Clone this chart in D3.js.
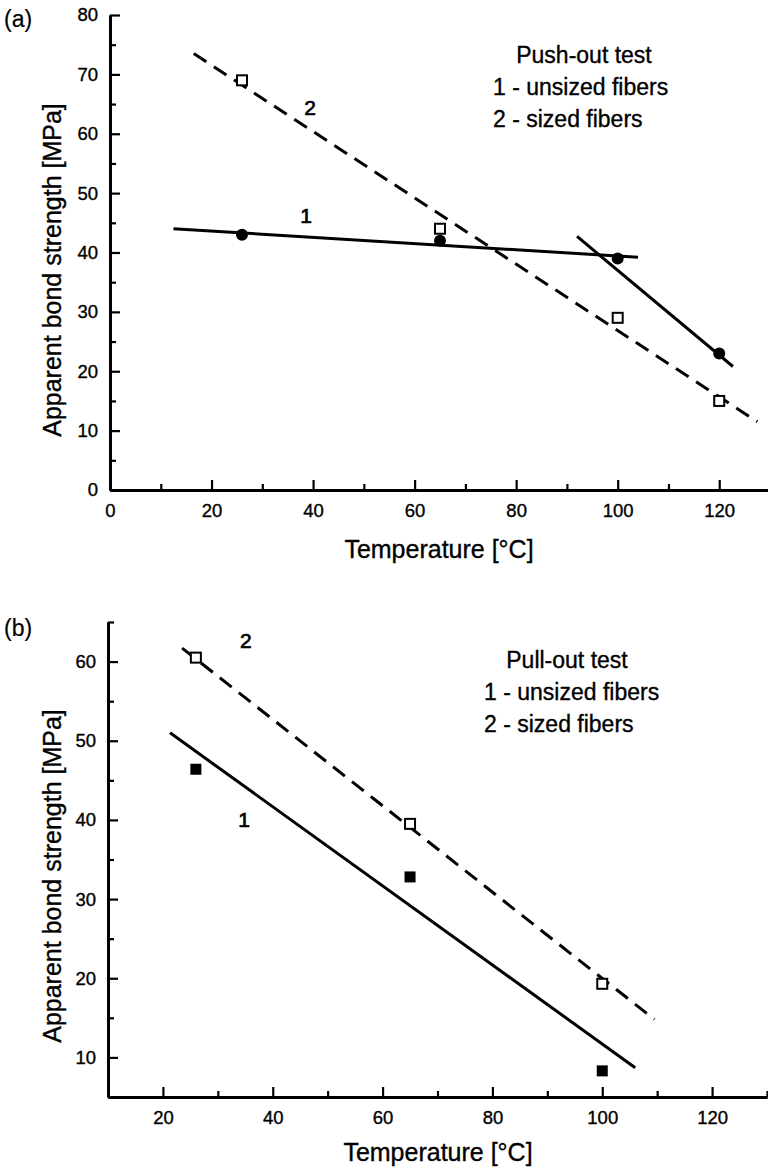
<!DOCTYPE html>
<html>
<head>
<meta charset="utf-8">
<script src="https://cdn.jsdelivr.net/npm/d3@7"></script>
<style>
  body { margin: 0; background: #fff; }
  svg { display: block; font-family: "Liberation Sans", Arial, Helvetica, sans-serif; }
  svg text { stroke: #000; stroke-width: 0.35px; }
</style>
</head>
<body>
<div id="wrapper"></div>
<script>
// DATA - panel (a), push-out test
const pushTemps = [26, 65, 100, 120];
const pushUnsized = [43, 42, 39, 23];
const pushSized = [69, 44, 29, 15];
// fitted lines, [temperature, strength] end points
const pushFit1a = [[12.5, 44], [104, 39.2]];
const pushFit1b = [[92, 42.7], [122.7, 20.8]];
const pushFit2 = [[16.5, 73.5], [127.5, 11.5]];

// DATA - panel (b), pull-out test
const pullTemps = [26, 65, 100];
const pullUnsized = [46.4, 32.8, 8.3];
const pullSized = [60.5, 39.5, 19.3];
const pullFit1 = [[21.3, 51], [106, 8.7]];
const pullFit2 = [[23.5, 61.7], [109.5, 14.8]];

const legendA = ["Push-out test", "1 - unsized fibers", "2 - sized fibers"];
const legendB = ["Pull-out test", "1 - unsized fibers", "2 - sized fibers"];

const svg = d3.select("#wrapper")
  .append("svg")
  .attr("width", 768)
  .attr("height", 1168);

function panel(opts) {
  const x = d3.scaleLinear().domain(opts.xDomain).range(opts.xRange);
  const y = d3.scaleLinear().domain(opts.yDomain).range(opts.yRange);
  const g = svg.append("g");

  //AXES
  const xMajor = d3.axisBottom(x).tickValues(opts.xMajor).tickSizeInner(-10)
    .tickSizeOuter(0).tickPadding(14).tickFormat(d3.format("d"));
  const xMinor = d3.axisBottom(x).tickValues(opts.xMinor).tickSizeInner(-6)
    .tickSizeOuter(0).tickFormat("");
  const yMajor = d3.axisLeft(y).tickValues(opts.yMajor).tickSizeInner(-10)
    .tickSizeOuter(0).tickPadding(12).tickFormat(d3.format("d"));
  const yMinor = d3.axisLeft(y).tickValues(opts.yMinor).tickSizeInner(-6)
    .tickSizeOuter(0).tickFormat("");

  const xg = opts.yRange[0];
  const yg = opts.xRange[0];
  [xMajor, xMinor].forEach(a => {
    g.append("g").attr("class", "axis").attr("transform", `translate(0,${xg})`).call(a);
  });
  [yMajor, yMinor].forEach(a => {
    g.append("g").attr("class", "axis").attr("transform", `translate(${yg},0)`).call(a);
  });
  g.selectAll(".axis path").attr("stroke", "#000").attr("stroke-width", 2.8);
  g.selectAll(".axis line").attr("stroke", "#000").attr("stroke-width", 2.2);
  g.selectAll(".axis text")
    .attr("font-size", 18.5)
    .attr("font-family", "Liberation Sans, Arial, sans-serif")
    .attr("fill", "#000");

  //FIT LINES
  const line = d3.line().x(d => x(d[0])).y(d => y(d[1]));
  opts.fits.forEach(f => {
    g.append("path")
      .attr("d", line(f.pts))
      .attr("fill", "none")
      .attr("stroke", "#000")
      .attr("stroke-width", 3)
      .attr("stroke-dasharray", f.dashed ? "15,9" : null);
  });

  //MARKERS
  opts.series.forEach(s => {
    const pts = s.temps.map((t, i) => [t, s.values[i]]);
    if (s.shape === "circle") {
      g.append("g").selectAll("circle").data(pts).join("circle")
        .attr("cx", d => x(d[0])).attr("cy", d => y(d[1]))
        .attr("r", 6).attr("fill", "#000");
    } else {
      const size = s.filled ? 11 : 10;
      g.append("g").selectAll("rect").data(pts).join("rect")
        .attr("x", d => x(d[0]) - size / 2).attr("y", d => y(d[1]) - size / 2)
        .attr("width", size).attr("height", size)
        .attr("fill", s.filled ? "#000" : "#fff")
        .attr("stroke", "#000")
        .attr("stroke-width", s.filled ? 0 : 2);
    }
  });

  //LINE NUMBERS
  opts.numbers.forEach(n => {
    g.append("text")
      .attr("x", x(n.at[0])).attr("y", y(n.at[1]))
      .attr("text-anchor", "middle")
      .attr("font-size", 21)
      .style("stroke-width", "0.7px")
      .text(n.label);
  });

  //LEGEND
  g.append("text")
    .attr("x", opts.legend.cx).attr("y", opts.legend.y)
    .attr("text-anchor", "middle").attr("font-size", 23)
    .text(opts.legend.lines[0]);
  opts.legend.lines.slice(1).forEach((t, i) => {
    g.append("text")
      .attr("x", opts.legend.left).attr("y", opts.legend.y + 32 * (i + 1))
      .attr("font-size", 23)
      .text(t);
  });

  //TITLES
  g.append("text")
    .attr("x", opts.xTitle[0]).attr("y", opts.xTitle[1])
    .attr("text-anchor", "middle").attr("font-size", 25)
    .text("Temperature [°C]");
  g.append("text")
    .attr("transform", `translate(${opts.yTitle[0]},${opts.yTitle[1]}) rotate(-90)`)
    .attr("text-anchor", "middle").attr("font-size", 25)
    .text("Apparent bond strength [MPa]");
  g.append("text")
    .attr("x", 4).attr("y", opts.tag[1])
    .attr("font-size", 23)
    .style("stroke-width", "0.2px")
    .text(opts.tag[0]);
}

panel({
  xDomain: [0, 130], xRange: [110, 770],
  yDomain: [0, 80], yRange: [490, 15],
  xMajor: [0, 20, 40, 60, 80, 100, 120],
  xMinor: [10, 30, 50, 70, 90, 110],
  yMajor: [0, 10, 20, 30, 40, 50, 60, 70, 80],
  yMinor: [5, 15, 25, 35, 45, 55, 65, 75],
  fits: [
    { pts: pushFit1a, dashed: false },
    { pts: pushFit1b, dashed: false },
    { pts: pushFit2, dashed: true }
  ],
  series: [
    { temps: pushTemps, values: pushSized, shape: "square", filled: false },
    { temps: pushTemps, values: pushUnsized, shape: "circle" }
  ],
  numbers: [
    { label: "2", at: [39.4, 63.2] },
    { label: "1", at: [38.6, 45.0] }
  ],
  legend: { lines: legendA, cx: 584, left: 493, y: 63 },
  xTitle: [439, 558],
  yTitle: [61, 270],
  tag: ["(a)", 27]
});

panel({
  xDomain: [10, 130], xRange: [108, 767],
  yDomain: [5, 65], yRange: [1097, 622],
  xMajor: [20, 40, 60, 80, 100, 120],
  xMinor: [30, 50, 70, 90, 110, 130],
  yMajor: [10, 20, 30, 40, 50, 60],
  yMinor: [15, 25, 35, 45, 55, 65],
  fits: [
    { pts: pullFit1, dashed: false },
    { pts: pullFit2, dashed: true }
  ],
  series: [
    { temps: pullTemps, values: pullSized, shape: "square", filled: false },
    { temps: pullTemps, values: pullUnsized, shape: "square", filled: true }
  ],
  numbers: [
    { label: "2", at: [35.1, 61.7] },
    { label: "1", at: [34.8, 39.1] }
  ],
  legend: { lines: legendB, cx: 567, left: 484, y: 668 },
  xTitle: [438, 1161],
  yTitle: [61, 876],
  tag: ["(b)", 636]
});
</script>
</body>
</html>
